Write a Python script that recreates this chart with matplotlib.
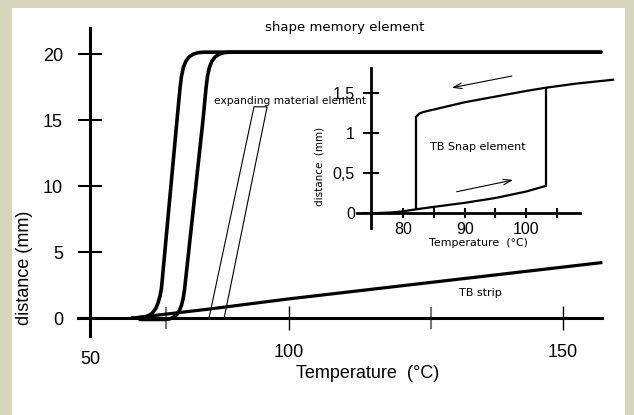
import numpy as np
import matplotlib
matplotlib.use('Agg')
import matplotlib.pyplot as plt
from matplotlib.patches import Rectangle
from matplotlib.ticker import NullFormatter

plt.rcParams['font.family'] = ['Liberation Sans', 'DejaVu Sans']

# main chart: temperature (C) -> distance (mm)
sm_cool_t = [60.55, 62.56, 64.07, 65.08, 65.83, 66.58, 67.09, 67.59, 67.96, 71.86, 72.61,
             72.99, 73.49, 74.12, 74.87, 75.88, 77.14, 78.64, 156.9]
sm_cool_d = [0, 0.03, 0.11, 0.24, 0.43, 0.76, 1.14, 1.67, 2.27, 15.0, 17.42,
             18.33, 19.02, 19.47, 19.77, 19.98, 20.10, 20.14, 20.14]
sm_heat_t = [62.56, 68.84, 70.10, 71.11, 71.86, 72.49, 72.99, 73.37, 73.74, 78.39, 79.15,
             79.52, 80.03, 80.65, 81.41, 82.41, 83.67, 85.18, 156.9]
sm_heat_d = [-0.11, -0.11, -0.06, 0.08, 0.27, 0.57, 0.98, 1.44, 2.12, 15.0, 17.42,
             18.33, 19.02, 19.47, 19.77, 19.98, 20.10, 20.14, 20.14]
expand_t = [79.9, 91.2, 94.5, 83.7]
expand_d = [0, 16.0, 16.0, 0]
strip_t = [60.8, 80, 100, 156.9]
strip_d = [0, 0.68, 1.45, 4.19]

main_yticks = [0, 5, 10, 15, 20]
main_xticks = [100, 150]
main_xticks_grey = [69, 126]

# inset: TB snap element hysteresis
snap_low_t = [74.7, 78, 80, 82.1, 85, 90, 95, 100, 103.2]
snap_low_d = [0, 0.01, 0.025, 0.05, 0.08, 0.13, 0.19, 0.27, 0.34]
snap_up_t = [82.1, 82.6, 83.3, 85, 90, 95, 100, 103.2, 108, 114.2]
snap_up_d = [1.20, 1.24, 1.26, 1.29, 1.38, 1.45, 1.52, 1.56, 1.61, 1.66]
snap_jump_t = [82.1, 103.2]
arrow_cool = [(97.7, 1.706), (87.9, 1.56)]
arrow_heat = [(88.7, 0.268), (97.9, 0.414)]

inset_yticks = [0, 0.5, 1, 1.5]
inset_ylabels = ['0', '0,5', '1', '1,5']
inset_xticks = [80, 85, 90, 95, 100, 105]
inset_xlabels = ['80', '', '90', '', '100', '']


# the temperature axis of the sketch is not uniform: 50-100 is narrower than 100-150
def t_to_px(t):
    t = np.asarray(t, dtype=float)
    return np.where(t < 100, 90 + (t - 50) * 3.98, 289 + (t - 100) * 5.48)


def px_to_t(p):
    p = np.asarray(p, dtype=float)
    return np.where(p < 289, 50 + (p - 90) / 3.98, 100 + (p - 289) / 5.48)


W, H = 634, 415
fig = plt.figure(figsize=(W / 100, H / 100), dpi=100, facecolor='#d8d5bf')
fig.patches.append(Rectangle((12 / W, 0), 613 / W, 407 / H, transform=fig.transFigure,
                             facecolor='white', edgecolor='none', zorder=-10))

ax = fig.add_axes([60 / W, (H - 345) / H, 560 / W, 325 / H])
ax.patch.set_alpha(0)
ax.set_xscale('function', functions=(t_to_px, px_to_t))
ax.set_xlim(42.46, 160.4)
ax.set_ylim(-2.045, 22.576)

for s in ['top', 'right']:
    ax.spines[s].set_visible(False)
ax.spines['left'].set_position(('data', 50))
ax.spines['bottom'].set_position(('data', 0))
ax.spines['left'].set_bounds(-1.36, 21.97)
ax.spines['bottom'].set_bounds(47.0, 157.1)
ax.spines['left'].set_linewidth(2.2)
ax.spines['bottom'].set_linewidth(2.2)

ax.set_yticks(main_yticks)
ax.tick_params(axis='y', direction='inout', length=17, width=1.5, pad=11, labelsize=13)
ax.set_xticks(main_xticks)
ax.set_xticks(main_xticks_grey, minor=True)
ax.xaxis.set_minor_formatter(NullFormatter())
ax.tick_params(axis='x', which='major', direction='inout', length=17, width=1.0, pad=10, labelsize=13)
ax.tick_params(axis='x', which='minor', direction='inout', length=16, width=1.5, color='#777777')
ax.annotate('50', xy=(50, 0), xytext=(0, -30), textcoords='offset points',
            ha='center', va='center', fontsize=13)

ax.set_xlabel('Temperature  (°C)', fontsize=13)
ax.xaxis.set_label_coords(0.55, -0.062)
ax.set_ylabel('distance (mm)', fontsize=13)
ax.yaxis.set_label_coords(-0.049, 0.237)

ax.plot(sm_cool_t, sm_cool_d, color='black', lw=2.6, solid_capstyle='round',
        solid_joinstyle='round', zorder=3)
ax.plot(sm_heat_t, sm_heat_d, color='black', lw=2.6, solid_capstyle='round',
        solid_joinstyle='round', zorder=3)
ax.plot(expand_t, expand_d, color='black', lw=0.8, zorder=3)
ax.plot(strip_t, strip_d, color='black', lw=2.3, zorder=3)

ax.text(110.2, 21.97, 'shape memory element', family='DejaVu Sans', fontsize=9.5,
        ha='center', va='center')
ax.text(100.2, 16.44, 'expanding material element', family='DejaVu Sans', fontsize=7.7,
        ha='center', va='center')
ax.text(134.9, 1.89, 'TB strip', family='DejaVu Sans', fontsize=8, ha='center', va='center')

# inset
axi = fig.add_axes([340 / W, (H - 250) / H, 285 / W, 195 / H])
axi.patch.set_alpha(0)
axi.set_xlim(69.68, 116.13)
axi.set_ylim(-0.456, 1.967)
for s in ['top', 'right']:
    axi.spines[s].set_visible(False)
axi.spines['left'].set_position(('data', 74.7))
axi.spines['bottom'].set_position(('data', 0))
axi.spines['left'].set_bounds(-0.18, 1.805)
axi.spines['bottom'].set_bounds(72.4, 108.8)
axi.spines['left'].set_linewidth(2.0)
axi.spines['bottom'].set_linewidth(2.0)

axi.set_yticks(inset_yticks)
axi.set_yticklabels(inset_ylabels)
axi.tick_params(axis='y', direction='inout', length=11, width=1.5, pad=6, labelsize=11.5)
axi.set_xticks(inset_xticks)
axi.set_xticklabels(inset_xlabels)
axi.tick_params(axis='x', direction='inout', length=7, width=1.5, pad=3, labelsize=11.5)

axi.plot(snap_low_t, snap_low_d, color='black', lw=1.6, clip_on=False)
axi.plot(snap_up_t, snap_up_d, color='black', lw=1.6, clip_on=False)
axi.vlines(snap_jump_t, np.interp(snap_jump_t, snap_low_t, snap_low_d),
           np.interp(snap_jump_t, snap_up_t, snap_up_d), color='black', lw=1.6)

for start, end in [arrow_cool, arrow_heat]:
    axi.annotate('', xy=end, xytext=start,
                 arrowprops=dict(arrowstyle='->,head_length=0.6,head_width=0.2',
                                 lw=0.8, color='black', shrinkA=0, shrinkB=0))

axi.text(92.1, 0.82, 'TB Snap element', family='DejaVu Sans', fontsize=8,
         ha='center', va='center')
axi.text(0.484, 0.037, 'Temperature  (°C)', transform=axi.transAxes, family='DejaVu Sans',
         fontsize=7.9, ha='center', va='center')
axi.text(-0.072, 0.426, 'distance  (mm)', transform=axi.transAxes, family='DejaVu Sans',
         fontsize=7.5, rotation=90, ha='center', va='center')

fig.savefig('out.png', dpi=100)
